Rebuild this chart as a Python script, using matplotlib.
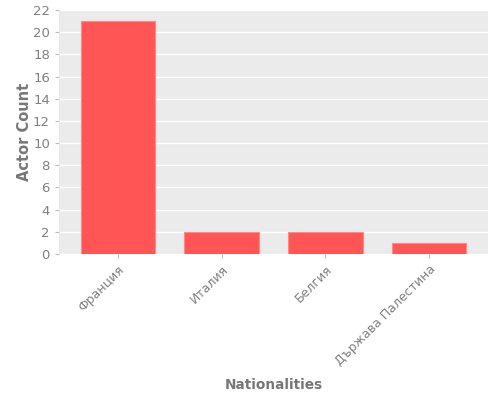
import matplotlib
matplotlib.use('Agg')
import matplotlib.pyplot as plt

nationalities = ['Франция', 'Италия', 'Белгия', 'Държава Палестина']
actor_counts = [21, 2, 2, 1]
y_ticks = list(range(0, 23, 2))

fig = plt.figure(figsize=(5, 4), dpi=100)
ax = fig.add_axes([0.118, 0.365, 0.858, 0.61])
ax.set_facecolor('#EBEBEB')
ax.bar(range(len(nationalities)), actor_counts, width=0.72,
       color='#FF5555', edgecolor='#FF8888', linewidth=0.8, zorder=3)
ax.set_xlim(-0.57, len(nationalities) - 0.43)
ax.set_ylim(0, 22)
ax.set_yticks(y_ticks)
ax.set_xticks(range(len(nationalities)))
ax.set_xticklabels(nationalities, rotation=45, ha='right', rotation_mode='anchor')
ax.grid(axis='y', color='white', linewidth=1, zorder=0)
ax.grid(axis='x', visible=False)
for s in ax.spines.values():
    s.set_visible(False)
ax.tick_params(colors='#BBBBBB', labelcolor='#808080', labelsize=9.5, length=3)
ax.tick_params(axis='x', labelsize=9)
ax.set_ylabel('Actor Count', fontsize=10.5, color='#777777', fontweight='bold')
ax.set_xlabel('Nationalities', fontsize=9.8, color='#777777', fontweight='bold')
ax.yaxis.set_label_coords(-0.062, 0.5)
ax.xaxis.set_label_coords(0.5, -0.508)

fig.savefig('out.png', dpi=100)
